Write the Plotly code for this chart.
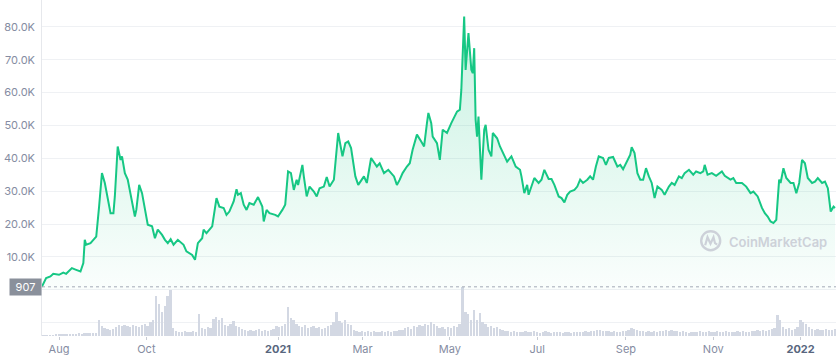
import plotly.graph_objects as go
import pandas as pd

# ---------------- data ----------------
start = pd.Timestamp("2020-08-01")

# price: day offset from 2020-08-01, value in thousands USD
price_day = [-12, -9, -6, -4, 0, 3, 5, 9, 12, 15, 17, 18, 19, 22, 24, 26, 28, 30, 32, 34,
             36, 38, 39, 41, 43, 44, 46, 48, 50, 52, 53, 54, 56, 58, 60, 62, 65, 67, 69, 72,
             74, 76, 78, 80, 83, 87, 89, 93, 95, 97, 100, 101, 103, 107, 110, 112, 115, 117, 119, 122,
             124, 125, 127, 129, 131, 133, 136, 139, 142, 143, 145, 147, 151, 153, 156, 158, 160, 162, 164, 166,
             167, 170, 171, 173, 175, 178, 180, 182, 185, 187, 189, 192, 195, 198, 200, 202, 204, 207, 209, 213,
             215, 218, 222, 224, 227, 230, 234, 236, 238, 240, 243, 245, 247, 250, 253, 255, 257, 258, 260, 261,
             264, 266, 268, 271, 274, 275, 278, 280, 281, 283, 284, 286, 288, 289, 290, 291, 292, 293, 295, 297,
             298, 300, 302, 303, 306, 308, 311, 313, 316, 319, 322, 323, 325, 327, 328, 332, 335, 337, 339, 342,
             344, 346, 349, 351, 353, 355, 357, 360, 362, 364, 366, 369, 371, 373, 375, 377, 380, 382, 384, 387,
             390, 392, 394, 397, 399, 400, 402, 404, 406, 408, 410, 412, 414, 416, 418, 421, 423, 426, 428, 430,
             433, 435, 437, 440, 443, 445, 448, 450, 451, 453, 456, 459, 463, 465, 469, 471, 473, 477, 480, 483,
             485, 488, 491, 493, 495, 497, 499, 501, 503, 504, 506, 508, 511, 513, 515, 517, 519, 521, 523, 526,
             528, 530, 533, 535, 537, 539, 541, 542]
price_k = [0.907, 3.56, 4.05, 4.87, 4.56, 5.26, 4.87, 6.60, 6.08, 5.57, 8.12, 15.2, 13.7, 14.2, 15.2, 16.2, 25.3, 35.5, 32.5, 28.4,
           23.3, 23.3, 28.4, 43.6, 39.5, 40.6, 35.5, 33.5, 29.4, 24.9, 22.3, 24.3, 31.9, 29.4, 24.3, 19.8, 19.3, 15.7, 18.3, 16.7,
           15.2, 14.2, 15.4, 13.7, 15.2, 13.7, 11.7, 10.6, 9.13, 14.2, 15.7, 18.3, 17.2, 19.3, 27.9, 25.3, 24.9, 22.8, 23.8, 26.9,
           30.6, 28.9, 29.4, 25.9, 24.3, 26.4, 25.9, 28.2, 25.3, 20.8, 24.3, 23.3, 22.8, 22.3, 24.3, 25.9, 36.0, 35.5, 30.4, 33.5,
           31.9, 38.0, 34.5, 28.4, 31.4, 29.9, 28.4, 30.9, 31.4, 34.3, 31.4, 33.5, 47.7, 40.6, 44.6, 45.1, 43.1, 34.5, 31.9, 34.5,
           32.5, 40.1, 37.5, 38.5, 35.5, 36.5, 34.5, 31.9, 33.5, 35.5, 37.5, 38.5, 42.6, 47.2, 45.1, 43.6, 50.7, 53.8, 50.7, 46.6,
           44.6, 39.5, 48.7, 47.7, 50.7, 51.7, 54.2, 54.8, 60.8, 83.1, 66.9, 78.1, 66.9, 65.9, 73.5, 51.7, 46.6, 52.7, 33.5, 48.7,
           50.2, 42.6, 40.6, 47.7, 46.1, 43.6, 40.6, 39.0, 40.6, 37.5, 36.5, 34.5, 29.4, 31.9, 28.9, 34.0, 32.5, 33.5, 36.5, 33.7,
           33.7, 31.9, 28.4, 27.9, 26.6, 28.9, 29.9, 30.4, 31.4, 33.5, 32.5, 33.5, 34.5, 33.5, 37.5, 40.6, 40.1, 38.0, 40.1, 40.4,
           37.5, 38.0, 36.7, 39.5, 41.1, 43.4, 41.6, 35.5, 33.5, 33.5, 37.0, 34.5, 32.5, 27.9, 31.4, 30.4, 28.9, 31.4, 32.5, 31.9,
           34.5, 34.0, 35.5, 36.5, 35.0, 36.0, 35.5, 36.0, 38.0, 35.0, 35.5, 34.7, 36.0, 34.7, 33.5, 34.0, 32.5, 32.5, 31.4, 29.4,
           29.9, 28.4, 24.9, 23.3, 22.3, 20.8, 20.3, 21.3, 33.5, 32.5, 37.0, 34.0, 32.5, 32.5, 29.4, 32.5, 39.5, 38.5, 34.0, 32.5,
           32.9, 34.0, 32.5, 32.9, 30.9, 23.8, 25.3, 24.9]

# volume: one value every 2 days starting at day -12, in millions USD
vol_first_day = -12
vol_step_days = 2
volume_musd = [
    12, 16, 14, 20, 20, 24, 30,
    30, 40, 36, 44, 50, 40, 60, 50, 70, 56, 60, 70, 60,
    320,
    200, 160, 140, 120, 140,
    180, 220, 200, 230, 200, 180, 220, 200, 180,
    220, 240, 200, 280, 320,
    800, 640, 480, 600, 800, 920,
    160,
    100, 90, 80, 100, 90, 80, 100, 90,
    440,
    160, 140, 180, 160,
    340, 380, 320, 360,
    220, 200, 240, 300, 200, 180,
    140, 120, 100, 120, 100, 120, 140, 100, 120, 100, 120, 140,
    200, 180, 200,
    240, 580,
    360, 320,
    240, 200, 180, 220, 160, 180, 200, 160, 180, 140, 160, 200,
    220, 280, 480, 300, 260, 320, 240, 220,
    120, 100, 80, 100, 90, 100, 80, 100, 90, 80, 100, 90, 100, 80, 110, 100, 120, 120,
    160, 180, 140, 200, 180, 220, 200, 240, 220, 280, 240, 200, 160,
    180, 140, 180, 160, 200, 180, 240,
    980,
    480, 440, 320, 520, 320, 460, 280, 240, 180, 200, 160, 180, 140,
    120, 100, 100, 80, 100, 80, 80, 90, 100, 80,
    80, 100, 80, 70, 80, 100, 80, 70, 80, 90,
    80, 70, 80, 80, 70, 80, 90, 80, 80, 100,
    90, 100, 110, 120, 120, 100, 110, 100, 90, 100,
    90, 80, 100, 110, 120, 160, 150, 120, 100, 110,
    90, 100, 80, 100, 90, 100, 110, 120, 100, 130,
    100, 110, 90, 100, 80, 70, 80, 90, 80, 100,
    90, 80, 100, 90, 80, 100, 90, 80, 100, 90,
    80, 80, 100, 90, 100, 80, 90, 100, 110, 120,
    100, 130, 110, 120, 140, 160,
    420, 320,
    180, 140, 160, 120,
    140, 180, 320, 280, 240, 180,
    140, 120, 140, 130, 120, 140, 120, 130, 140,
]

x_tick_dates = ["2020-08-01", "2020-10-01", "2021-01-01", "2021-03-01", "2021-05-01",
                "2021-07-01", "2021-09-01", "2021-11-01", "2022-01-01"]
x_tick_text = ["Aug", "Oct", "<b><span style='color:#58667e'>2021</span></b>", "Mar", "May",
               "Jul", "Sep", "Nov", "<b><span style='color:#58667e'>2022</span></b>"]
y_tick_vals = [0, 10000, 20000, 30000, 40000, 50000, 60000, 70000, 80000]
y_tick_text = ["", "10.0K", "20.0K", "30.0K", "40.0K", "50.0K", "60.0K", "70.0K", "80.0K"]
first_price = 907

# ---------------- build ----------------
dates = [start + pd.Timedelta(days=d) for d in price_day]
price = [v * 1000 for v in price_k]
vol_dates = [start + pd.Timedelta(days=vol_first_day + vol_step_days * i) for i in range(len(volume_musd))]

W, H = 836, 359
L, R, T, B = 42, 0, 0, 23
PW, PH = W - L - R, H - T - B


def pxx(x):
    return (x - L) / PW


def pxy(y):
    return 1 - (y - T) / PH


GREEN = "#16c784"
GRID = "#eff1f4"
LABEL = "#858ca2"

fig = go.Figure()
fig.add_trace(go.Bar(
    x=vol_dates, y=volume_musd, yaxis="y",
    marker=dict(color="#d3d8e3", line=dict(width=0)),
    width=1.25 * 86400000, hoverinfo="skip", showlegend=False,
))
fig.add_trace(go.Scatter(
    x=dates, y=price, yaxis="y2", mode="lines",
    line=dict(color=GREEN, width=2),
    fill="tozeroy",
    fillgradient=dict(type="vertical",
                      colorscale=[[0, "rgba(22,199,132,0.02)"], [1, "rgba(22,199,132,0.24)"]]),
    showlegend=False,
))

fig.update_layout(
    width=W, height=H,
    margin=dict(l=L, r=R, t=T, b=B, pad=0),
    paper_bgcolor="white", plot_bgcolor="white",
    font=dict(family="Inter", size=11, color=LABEL),
    bargap=0,
    xaxis=dict(
        type="date",
        range=["2020-07-20 03:00", "2022-01-25 17:00"],
        tickvals=x_tick_dates, ticktext=x_tick_text,
        showgrid=False, zeroline=False, showline=False,
        ticks="outside", ticklen=3, tickcolor="#c8ccd4",
        tickfont=dict(size=11, color=LABEL),
    ),
    yaxis=dict(
        range=[0, 6720], domain=[0, 1],
        tickvals=[280], showticklabels=False,
        showgrid=True, gridcolor=GRID, zeroline=False,
        showline=True, linecolor="#e6e8ec", linewidth=1,
        ticks="",
    ),
    yaxis2=dict(
        overlaying="y", side="left",
        range=[-14054, 88157],
        tickvals=y_tick_vals, ticktext=y_tick_text,
        showgrid=True, gridcolor=GRID, zeroline=False, showline=False,
        ticks="", ticklabelstandoff=6,
        tickfont=dict(size=11, color=LABEL),
    ),
)

# dotted reference line at the first price and its label
fig.add_shape(type="line", xref="paper", x0=0, x1=1, yref="y2", y0=first_price, y1=first_price,
              line=dict(color="#a3a9b6", width=1, dash="dot"))
fig.add_annotation(xref="paper", x=0, xanchor="right", yref="y2", y=first_price, yanchor="middle",
                   text=f"{first_price}", showarrow=False, bgcolor="#8a909b",
                   font=dict(color="white", size=11, family="Inter"),
                   width=29, height=14, borderpad=1, align="center")

# watermark
WM = "#cdd1d9"
fig.add_annotation(xref="paper", yref="paper", x=pxx(727), y=pxy(241.5), xanchor="left", yanchor="middle",
                   text="CoinMarketCap", showarrow=False,
                   font=dict(family="Inter", size=13, color=WM, weight=600))
cx, cy, r = 710.7, 240.7, 9.5
fig.add_shape(type="circle", xref="paper", yref="paper",
              x0=pxx(cx - r), x1=pxx(cx + r), y0=pxy(cy + r), y1=pxy(cy - r),
              line=dict(color=WM, width=2.4))
pts = [(-5.5, 4.5), (-3.2, -3.5), (-0.2, 3.0), (2.8, -3.5), (4.3, 2.5), (6.5, 4.0)]
path = "M " + " L ".join(f"{pxx(cx + dx):.5f},{pxy(cy + dy):.5f}" for dx, dy in pts)
fig.add_shape(type="path", xref="paper", yref="paper", path=path,
              line=dict(color=WM, width=2.2))

fig.write_html("out.html")
